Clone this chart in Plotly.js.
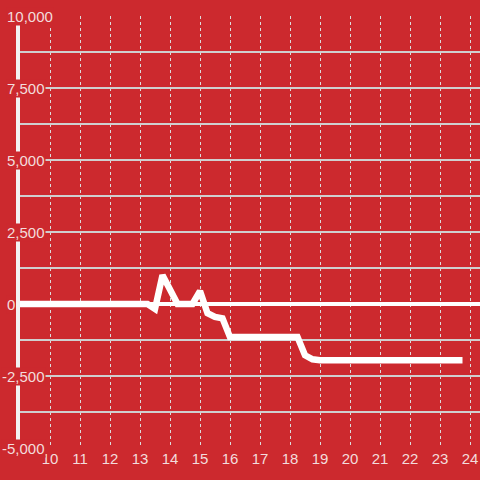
<!DOCTYPE html>
<html>
<head>
<meta charset="utf-8">
<script src="https://cdn.plot.ly/plotly-3.0.1.min.js"></script>
<style>html,body{margin:0;padding:0;background:#cc292e;}#chart{width:480px;height:480px;}</style>
</head>
<body>
<div id="chart"></div>
<script>
// Hours of day
var hours = [9, 9.25, 9.5, 9.75, 10, 10.25, 10.5, 10.75, 11, 11.25, 11.5, 11.75,
  12, 12.25, 12.5, 12.75, 13, 13.25, 13.5, 13.75, 14, 14.25, 14.5, 14.75,
  15, 15.25, 15.5, 15.75, 16, 16.25, 16.5, 16.75, 17, 17.25, 17.5, 17.75,
  18, 18.25, 18.5, 18.75, 19, 19.25, 19.5, 19.75, 20, 20.25, 20.5, 20.75,
  21, 21.25, 21.5, 21.75, 22, 22.25, 22.5, 22.75, 23, 23.25, 23.5, 23.75];
var values = [0, 0, 0, 0, 0, 0, 0, 0, 0, 0, 0, 0,
  0, 0, 0, 0, 0, 0, -170, 1000, 500, 0, 0, 0,
  450, -320, -450, -500, -1150, -1150, -1150, -1150, -1150, -1150, -1150, -1150,
  -1150, -1150, -1780, -1920, -1950, -1950, -1950, -1950, -1950, -1950, -1950, -1950,
  -1950, -1950, -1950, -1950, -1950, -1950, -1950, -1950, -1950, -1950, -1950, -1950];
var xTickVals = [10, 11, 12, 13, 14, 15, 16, 17, 18, 19, 20, 21, 22, 23, 24];
var yTickVals = [10000, 7500, 5000, 2500, 0, -2500, -5000];
var yTickText = ['10,000', '7,500', '5,000', '2,500', '0', '-2,500', '-5,000'];

var bg = '#cc292e';
var txt = '#f3dcdc';
var font = {family: '"Liberation Sans", Arial, sans-serif', size: 15, color: txt};

var annotations = yTickVals.map(function (v, i) {
  return {
    xref: 'paper', yref: 'y', x: 0, y: v,
    xanchor: 'left', yanchor: 'middle',
    xshift: v < 0 ? -19 : -14,
    text: yTickText[i], showarrow: false,
    font: font, bgcolor: bg, borderpad: 0
  };
});

var data = [{
  x: hours, y: values, type: 'scatter', mode: 'lines',
  line: {color: '#ffffff', width: 6.5},
  hoverinfo: 'skip'
}];

var layout = {
  width: 480, height: 480,
  paper_bgcolor: bg, plot_bgcolor: bg,
  margin: {l: 20, r: 0, t: 16, b: 32},
  showlegend: false,
  font: font,
  xaxis: {
    range: [9, 24 + 1/3],
    tickmode: 'array', tickvals: xTickVals, ticktext: xTickVals.map(String),
    showgrid: true, gridcolor: '#dcdcdc', gridwidth: 1, griddash: '3px,3px',
    zeroline: false, showline: false, ticks: '', tickfont: font,
    fixedrange: true
  },
  yaxis: {
    range: [-5000, 10000],
    tick0: 0, dtick: 1250,
    showticklabels: false, ticks: '',
    showgrid: true, gridcolor: '#cfcfcf', gridwidth: 1.2,
    zeroline: true, zerolinecolor: '#ffffff', zerolinewidth: 4,
    showline: true, linecolor: '#f2f2f2', linewidth: 4,
    fixedrange: true
  },
  annotations: annotations
};

Plotly.newPlot('chart', data, layout, {displayModeBar: false, staticPlot: true});
</script>
</body>
</html>
